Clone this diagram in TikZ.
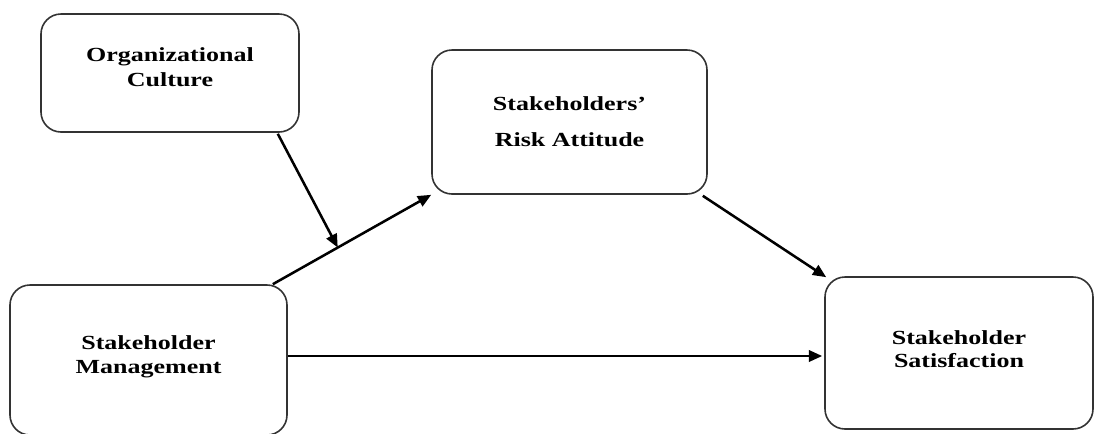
\documentclass[tikz,border=0pt]{standalone}
\usepackage{fontspec}
\newfontfamily\boxfont{Liberation Serif}[FakeStretch=1.3]
\usetikzlibrary{arrows.meta,calc}
\begin{document}
\begin{tikzpicture}[x=0.75pt,y=-0.75pt,
  box/.style={draw=black!80,line width=1.2pt,rounded corners=15pt,align=center,
    font=\boxfont\bfseries\fontsize{15}{18.75}\selectfont,inner sep=0pt},
  arr/.style={draw=black,line width=1.9pt,-{Triangle[length=10pt,width=8.5pt]}}]
\useasboundingbox (0,0) rectangle (1095,433);
\node[box,minimum width=258*0.75pt,minimum height=118*0.75pt] (org) at (170,73)
  {Organizational\\Culture\\[-9.75pt]};
\node[box,minimum width=275*0.75pt,minimum height=144*0.75pt,
  font=\boxfont\bfseries\fontsize{15}{27}\selectfont] (ra) at (569.5,122)
  {Stakeholders’\\Risk Attitude};
\node[box,minimum width=277*0.75pt,minimum height=150*0.75pt,
  font=\boxfont\bfseries\fontsize{15}{18}\selectfont] (sm) at (148.5,360)
  {Stakeholder\\Management\\[-9.4pt]};
\node[box,minimum width=268*0.75pt,minimum height=152*0.75pt,
  font=\boxfont\bfseries\fontsize{15}{17.25}\selectfont] (ss) at (959,353)
  {Stakeholder\\Satisfaction\\[-10.9pt]};
\path ($(sm.north east)+(-15,0)$) coordinate (smout) -- (ra.south west) coordinate[pos=0.41] (mid);
\draw[arr] (smout) -- (ra.south west);
\draw[arr] ($(org.south east)+(-22,1)$) -- (mid);
\draw[arr] ($(ra.south east)+(-5,1)$) -- ($(ss.north west)+(2,1)$);
\draw[arr] ($(sm.east)+(0,-4)$) -- ($(ss.west)+(-2,3)$);
\end{tikzpicture}
\end{document}
